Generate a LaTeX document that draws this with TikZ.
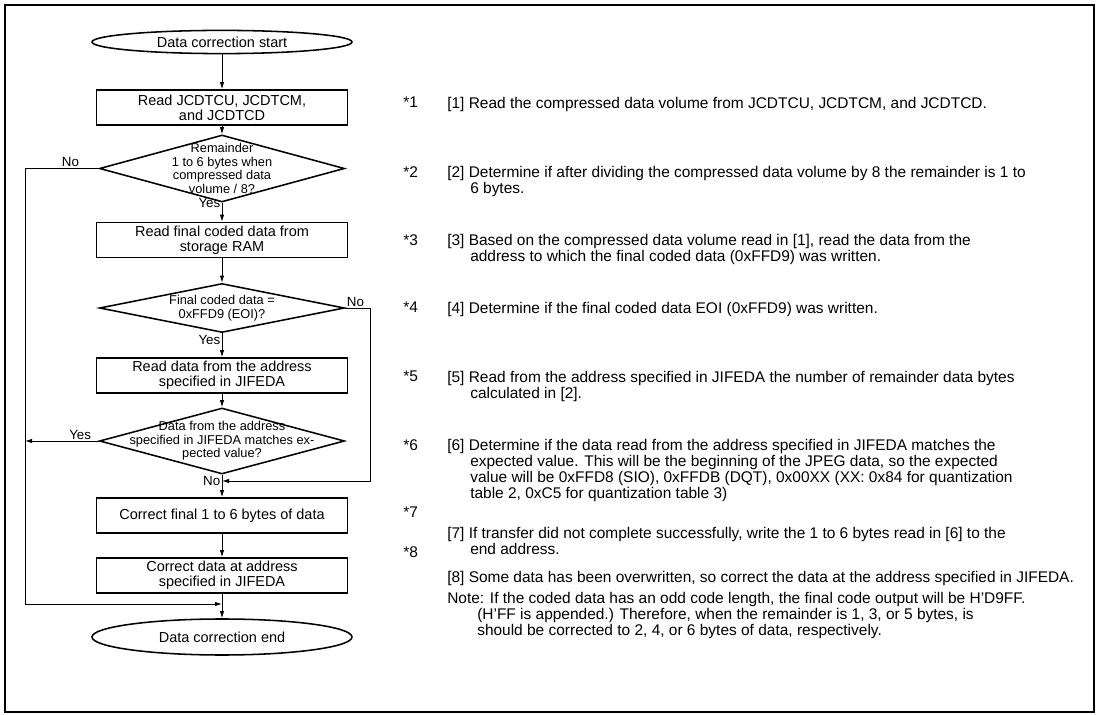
\documentclass[tikz,border=0pt]{standalone}
\usepackage{fontspec}
\setmainfont{Liberation Sans}
\usetikzlibrary{arrows.meta,shapes.geometric}

\newcommand{\boxfont}{\fontsize{10.3}{10.7}\selectfont}
\newcommand{\dfont}{\fontsize{9.1}{9.6}\selectfont}
\newcommand{\yesnofont}{\fontsize{9.5}{10}\selectfont}
\newcommand{\notefont}{\fontsize{11}{11.38}\selectfont}
\newcommand{\indnum}{\hspace*{0.575cm}}
\newcommand{\indnote}{\hspace*{0.75cm}}

\begin{document}
\begin{tikzpicture}[
    stepbox/.style={draw,line width=1.1pt,minimum width=6.275cm,minimum height=0.875cm,
                    align=center,inner sep=0pt,font=\boxfont},
    terminal/.style={draw,ellipse,line width=1.1pt,minimum width=6.5cm,inner sep=0pt,font=\boxfont},
    decision/.style={draw,diamond,line width=1.1pt,minimum width=6.125cm,inner sep=0pt},
    dtext/.style={align=center,inner sep=0pt,font=\dfont},
    yesno/.style={inner sep=1pt,font=\yesnofont},
    starmark/.style={anchor=north west,inner sep=0pt,font=\notefont},
    notetext/.style={anchor=north west,align=left,inner sep=0pt,font=\notefont},
    arrow/.style={-{Latex[length=1.75mm,width=1.1mm]},line width=0.6pt}
  ]
    \useasboundingbox (0,0) rectangle (27.525,-17.875);
    \draw[line width=1.3pt] (0.125,-0.125) rectangle (27.35,-17.8);

    \node[terminal,minimum height=0.58cm] (start) at (5.55,-1.05) {Data correction start};
    \node[stepbox] (rd) at (5.55,-2.6875) {Read JCDTCU, JCDTCM,\\and JCDTCD};
    \node[decision,minimum height=1.675cm] (rem) at (5.55,-4.2125) {};
    \node[dtext] (remt) at (rem) {Remainder\\1 to 6 bytes when\\compressed data\\volume / 8?};
    \node[stepbox] (rdf) at (5.55,-6.0) {Read final coded data from\\storage RAM};
    \node[decision,minimum height=1.225cm] (eoi) at (5.55,-7.7) {};
    \node[dtext] (eoit) at (eoi) {Final coded data =\\0xFFD9 (EOI)?};
    \node[stepbox] (rda) at (5.55,-9.3875) {Read data from the address\\specified in JIFEDA};
    \node[decision,minimum height=1.65cm] (match) at (5.55,-11.025) {};
    \node[dtext] (matcht) at (match) {Data from the address\\specified in JIFEDA matches ex-\\pected value?};
    \node[stepbox] (cfin) at (5.55,-12.8875) {Correct final 1 to 6 bytes of data};
    \node[stepbox] (cadr) at (5.55,-14.3875) {Correct data at address\\specified in JIFEDA};
    \node[terminal,minimum height=0.9cm] (stop) at (5.55,-15.925) {Data correction end};

    \coordinate (lft) at (0.625,0);
    \coordinate (rgt) at (9.25,0);
    \coordinate (mrg) at (5.55,-15.1);
    \coordinate (jn) at (5.55,-12.025);

    \draw[arrow] (start) -- (rd);
    \draw[arrow] (rd) -- (rem);
    \draw[arrow] (rem) -- (rdf);
    \draw[arrow] (rdf) -- (eoi);
    \draw[arrow] (eoi) -- (rda);
    \draw[arrow] (rda) -- (match);
    \draw[arrow] (match) -- (cfin);
    \draw[arrow] (cfin) -- (cadr);
    \draw[arrow] (cadr) -- (stop);
    \draw[arrow] (rem.west) -- (rem.west -| lft) |- (mrg);
    \draw[arrow] (eoi.east) -- (eoi.east -| rgt) |- (jn);
    \draw[arrow] (match.west) -- (match.west -| lft);

    \node[yesno,anchor=south east] (no1) at ([xshift=-0.45cm]rem.west) {No};
    \node[yesno,anchor=east] (yes1) at (rem.south) {Yes};
    \node[yesno,anchor=south west] (no2) at (eoi.east) {No};
    \node[yesno,anchor=north east] (yes2) at (eoi.south) {Yes};
    \node[yesno,anchor=south east] (yes3) at ([xshift=-0.15cm]match.west) {Yes};
    \node[yesno,anchor=north east] (no3) at (match.south) {No};

    \foreach \i/\y in {1/-2.425,2/-4.15,3/-5.85,4/-7.55,5/-9.275,6/-10.975,7/-12.675,8/-13.65}
      \node[starmark] (s\i) at (10.075,\y) {*\i};

    \node[notetext] (n1) at (11.175,-2.425)
      {[1] Read the compressed data volume from JCDTCU, JCDTCM, and JCDTCD.};
    \node[notetext] (n2) at (11.175,-4.15)
      {[2] Determine if after dividing the compressed data volume by 8 the remainder is 1 to\\
       \indnum 6 bytes.};
    \node[notetext] (n3) at (11.175,-5.85)
      {[3] Based on the compressed data volume read in [1], read the data from the\\
       \indnum address to which the final coded data (0xFFD9) was written.};
    \node[notetext] (n4) at (11.175,-7.55)
      {[4] Determine if the final coded data EOI (0xFFD9) was written.};
    \node[notetext] (n5) at (11.175,-9.275)
      {[5] Read from the address specified in JIFEDA the number of remainder data bytes\\
       \indnum calculated in [2].};
    \node[notetext] (n6) at (11.175,-10.975)
      {[6] Determine if the data read from the address specified in JIFEDA matches the\\
       \indnum expected value. This will be the beginning of the JPEG data, so the expected\\
       \indnum value will be 0xFFD8 (SIO), 0xFFDB (DQT), 0x00XX (XX: 0x84 for quantization\\
       \indnum table 2, 0xC5 for quantization table 3)};
    \node[notetext] (n7) at (11.175,-13.175)
      {[7] If transfer did not complete successfully, write the 1 to 6 bytes read in [6] to the\\
       \indnum end address.};
    \node[notetext] (n8) at (11.175,-14.275)
      {[8] Some data has been overwritten, so correct the data at the address specified in JIFEDA.};
    \node[notetext] (nnote) at (11.175,-14.8)
      {Note: If the coded data has an odd code length, the final code output will be H'D9FF.\\
       \indnote (H'FF is appended.) Therefore, when the remainder is 1, 3, or 5 bytes, is\\
       \indnote should be corrected to 2, 4, or 6 bytes of data, respectively.};
\end{tikzpicture}
\end{document}
